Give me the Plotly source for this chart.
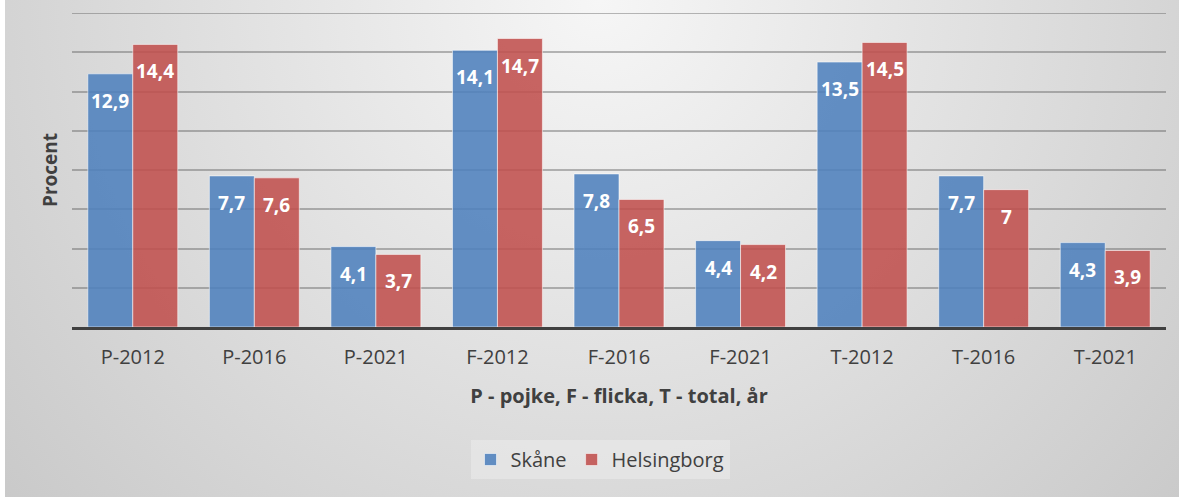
import base64
import plotly.graph_objects as go

categories = ["P-2012", "P-2016", "P-2021", "F-2012", "F-2016", "F-2021", "T-2012", "T-2016", "T-2021"]
skane = [12.9, 7.7, 4.1, 14.1, 7.8, 4.4, 13.5, 7.7, 4.3]
helsingborg = [14.4, 7.6, 3.7, 14.7, 6.5, 4.2, 14.5, 7.0, 3.9]
series_names = ["Skåne", "Helsingborg"]
y_max = 16

W, H = 1179, 497
ML, MR, MT, MB = 72, 13, 13, 170
PW, PH = W - ML - MR, H - MT - MB

svg = f'''<svg xmlns="http://www.w3.org/2000/svg" width="{W}" height="{H}">
<defs><radialGradient id="g" gradientUnits="userSpaceOnUse" cx="600" cy="0" r="800">
<stop offset="0" stop-color="#f6f6f6"/><stop offset="1" stop-color="#c8c8c8"/></radialGradient></defs>
<rect x="0" y="0" width="{W}" height="{H}" fill="#ffffff"/>
<rect x="5" y="0" width="{W-5}" height="{H}" fill="url(#g)"/></svg>'''
bg_uri = "data:image/svg+xml;base64," + base64.b64encode(svg.encode()).decode()

grid_col = "rgba(90,90,90,0.42)"

fig = go.Figure()
colors = ["rgba(79,129,189,0.88)", "rgba(192,80,77,0.88)"]
for name, vals, col in zip(series_names, [skane, helsingborg], colors):
    fig.add_trace(go.Bar(
        x=categories, y=vals, name=name,
        marker=dict(color=col, line=dict(color="rgba(255,255,255,0.55)", width=1)),
        hoverinfo="x+y+name",
    ))

bargap = 0.26
half = (1 - bargap) / 4
fmt = lambda v: f"{v:g}".replace(".", ",")
for si, vals in enumerate([skane, helsingborg]):
    off = -half if si == 0 else half
    for i, v in enumerate(vals):
        fig.add_annotation(x=i + off, y=v, xref="x", yref="y", text=fmt(v),
                           showarrow=False, yshift=-27,
                           font=dict(family="Open Sans", size=19, color="white", weight="bold"))

# top gridline (at the axis maximum)
fig.add_shape(type="line", xref="paper", yref="y", x0=0, x1=1, y0=y_max, y1=y_max,
              line=dict(color=grid_col, width=2), layer="below")

fig.update_layout(
    width=W, height=H,
    margin=dict(l=ML, r=MR, t=MT, b=MB),
    paper_bgcolor="#d8d8d8",
    plot_bgcolor="rgba(0,0,0,0)",
    barmode="group", bargap=bargap, bargroupgap=0,
    font=dict(family="Open Sans", color="#404040"),
    images=[dict(source=bg_uri, xref="paper", yref="paper",
                 x=-ML / PW, y=1 + MT / PH, sizex=W / PW, sizey=H / PH,
                 sizing="stretch", xanchor="left", yanchor="top", layer="below")],
    showlegend=True,
    legend=dict(orientation="h", x=(600 - ML) / PW, xanchor="center",
                y=(MT + PH - 440) / PH, yanchor="top",
                bgcolor="rgba(240,240,240,0.45)",
                font=dict(size=20, color="#404040"),
                itemwidth=30, tracegroupgap=0),
    xaxis=dict(
        type="category", showgrid=False, showline=True, linecolor="#404040", linewidth=3,
        ticks="", tickfont=dict(size=20, color="#404040"), ticklabelstandoff=10,
        title=dict(text="P - pojke, F - flicka, T - total, år", standoff=20,
                   font=dict(size=20, color="#404040", weight="bold")),
    ),
    yaxis=dict(
        range=[0, y_max], tick0=0, dtick=2, showticklabels=False, showgrid=True,
        gridcolor=grid_col, gridwidth=2, zeroline=False,
        title=dict(text="Procent", standoff=8,
                   font=dict(size=19, color="#404040", weight="bold")),
    ),
)

fig.write_html("out.html", config={"displayModeBar": False},
               post_script="document.body.style.margin='0';")
